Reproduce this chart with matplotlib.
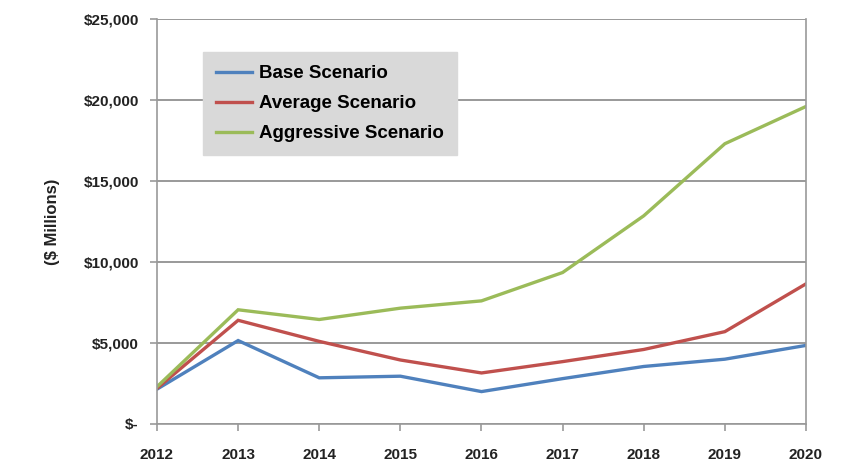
import matplotlib.pyplot as plt
from matplotlib.ticker import FuncFormatter

plt.rcParams['font.family'] = ['Liberation Sans', 'DejaVu Sans']
plt.rcParams['font.weight'] = 'bold'

# data ($ millions)
years = [2012, 2013, 2014, 2015, 2016, 2017, 2018, 2019, 2020]
base = [2150, 5150, 2850, 2950, 2000, 2800, 3550, 4000, 4850]
average = [2200, 6400, 5100, 3950, 3150, 3850, 4600, 5700, 8650]
aggressive = [2300, 7050, 6450, 7150, 7600, 9350, 12850, 17300, 19600]

series_names = ['Base Scenario', 'Average Scenario', 'Aggressive Scenario']
colors = ['#4F81BD', '#C0504D', '#9BBB59']

fig = plt.figure(figsize=(8.5, 4.75), dpi=100)
ax = fig.add_axes([0.1847, 0.1074, 0.7635, 0.8526])

for vals, name, c in zip([base, average, aggressive], series_names, colors):
    ax.plot(years, vals, color=c, lw=2.4, label=name, solid_joinstyle='miter')

ax.set_xlim(2012, 2020)
ax.set_ylim(0, 25000)
ax.set_xticks(years)
ax.set_yticks(range(0, 25001, 5000))


def money(v, pos):
    if v == 0:
        return '$-'
    return '${:,.0f}'.format(v)


ax.yaxis.set_major_formatter(FuncFormatter(money))
ax.yaxis.grid(True, color='#888888', lw=1.2)
ax.set_axisbelow(True)

for s in ax.spines.values():
    s.set_color('#999999')
    s.set_linewidth(1.2)
ax.spines['top'].set_visible(False)

ax.tick_params(axis='both', labelsize=11, colors='#999999', labelcolor='#222222',
               length=5, width=1.2)
ax.tick_params(axis='x', pad=12)
ax.tick_params(axis='y', pad=8)

ax.set_ylabel('($ Millions)', fontsize=12, fontweight='bold', color='#222222', labelpad=17)

leg = ax.legend(loc='upper left', bbox_to_anchor=(0.071, 0.918), fontsize=13.5,
                frameon=True, fancybox=False, handlelength=1.9, labelspacing=0.68,
                borderpad=0.7, handletextpad=0.4, borderaxespad=0)
leg.get_frame().set_facecolor('#D9D9D9')
leg.get_frame().set_edgecolor('#D9D9D9')
leg.get_frame().set_alpha(1)

plt.savefig('out.png', dpi=100)
